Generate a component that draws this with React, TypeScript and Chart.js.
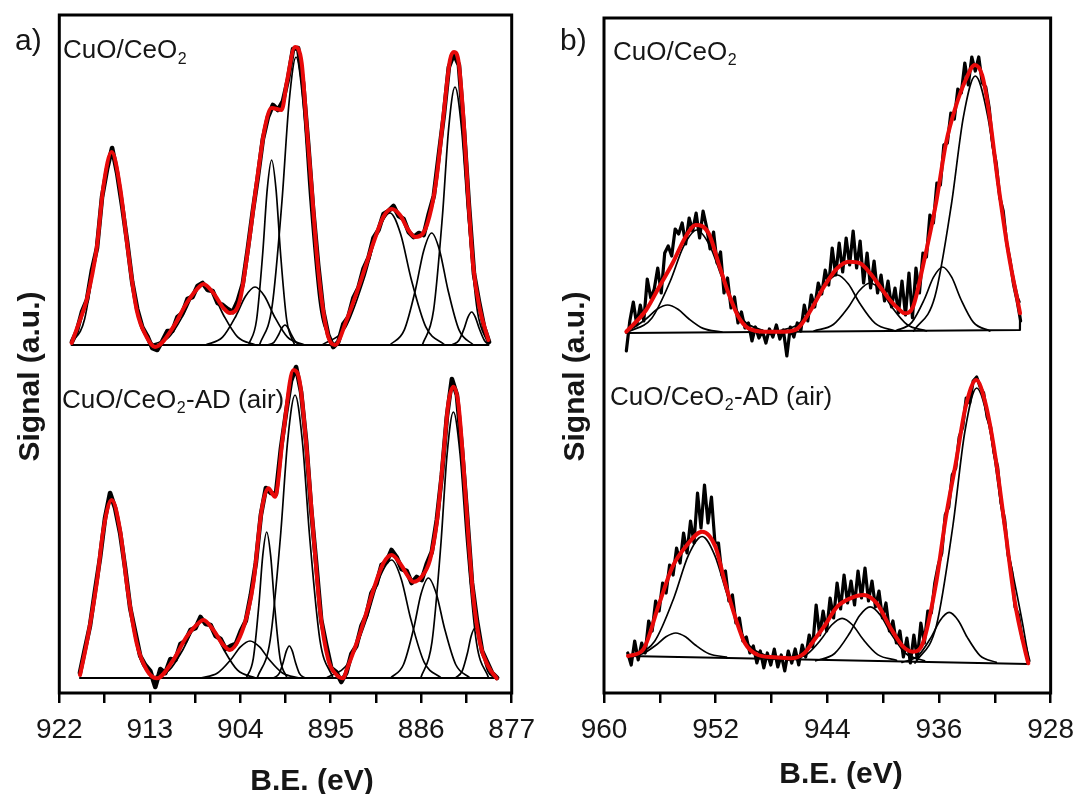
import React, { useEffect, useRef } from "react";
import { Chart, registerables } from "chart.js";

Chart.register(...registerables);

type Pt = [number, number];

const FONT = "'Liberation Sans', Arial, Helvetica, sans-serif";
const RED = "rgb(232, 10, 10)";
const INK = "#161616";

/* ---------------- axes ---------------- */
const A_TICKS = [922, 917.5, 913, 908.5, 904, 899.5, 895, 890.5, 886, 881.5, 877];
const A_TICK_LABELS = [922, 913, 904, 895, 886, 877];
const B_TICKS = [960, 956, 952, 948, 944, 940, 936, 932, 928];
const B_TICK_LABELS = [960, 952, 944, 936, 928];

/* ---------------- sample names ---------------- */
const NAME_TOP: [string, string, string] = ["CuO/CeO", "2", ""];
const NAME_BOTTOM: [string, string, string] = ["CuO/CeO", "2", "-AD (air)"];
const X_TITLE = "B.E. (eV)";
const Y_TITLE = "Signal (a.u.)";

/* ================= panel a) ================= */
const A_TOP_BASELINE: Pt[] = [[920.77, 348], [879.32, 348]];
const A_TOP_FIT: Pt[] = [
  [920.77, 350], [919.94, 373], [919.28, 393], [918.28, 445], [917.62, 506], [916.79, 541], [915.96, 506],
  [915.2, 445], [914.3, 383], [913.31, 356], [912.48, 346], [910.66, 366], [909.33, 390], [908.0, 407],
  [907.67, 409], [906.68, 400], [905.68, 385], [905.02, 380], [904.03, 393], [903.2, 446], [902.37, 510],
  [901.54, 566], [900.88, 585], [899.88, 583], [899.38, 610], [898.55, 646], [897.89, 630], [897.39, 566],
  [896.9, 505], [896.4, 440], [895.9, 393], [895.24, 356], [894.58, 348], [893.42, 373], [892.09, 410],
  [890.76, 450], [889.77, 476], [888.94, 484], [888.11, 478], [887.28, 463], [886.62, 456], [885.79, 460],
  [884.96, 486], [884.46, 516], [883.8, 576], [883.14, 633], [882.74, 641], [882.31, 633], [881.81, 576],
  [881.31, 493], [880.82, 426], [880.15, 383], [879.32, 353],
];
const A_TOP_PEAKS: Pt[][] = [
  [[920.77, 350], [919.48, 374], [918.37, 444.5], [917.58, 510], [916.79, 541], [916.0, 510], [915.21, 444.5], [914.1, 374], [912.68, 348]],
  [[912.87, 348], [911.07, 356.1], [909.67, 378], [908.67, 398.4], [907.67, 408], [906.67, 398.4], [905.67, 378], [904.27, 356.1], [902.47, 348]],
  [[907.47, 348], [905.76, 355.8], [904.43, 377], [903.48, 396.7], [902.53, 406], [901.58, 396.7], [900.63, 377], [899.3, 355.8], [897.59, 348]],
  [[903.17, 348], [902.38, 373], [901.76, 440.5], [901.32, 503.4], [900.88, 533], [900.44, 503.4], [900.0, 440.5], [899.38, 373], [898.59, 348]],
  [[901.24, 348], [900.65, 350.7], [900.2, 358], [899.88, 364.8], [899.55, 368], [899.22, 364.8], [898.9, 358], [898.45, 350.7], [897.86, 348]],
  [[902.09, 348], [900.83, 386.9], [899.85, 492], [899.15, 590], [898.45, 636], [897.75, 590], [897.05, 492], [896.07, 386.9], [894.81, 348]],
  [[895.86, 348], [893.52, 365.8], [891.7, 414], [890.4, 458.9], [889.1, 480], [888.05, 458.9], [887.0, 414], [885.53, 365.8], [883.64, 348]],
  [[889.12, 348], [887.68, 363.1], [886.56, 404], [885.76, 442.1], [884.96, 460], [884.16, 442.1], [883.36, 404], [882.24, 363.1], [880.8, 348]],
  [[885.89, 348], [884.77, 382.8], [883.89, 477], [883.27, 564.7], [882.64, 606], [881.99, 564.7], [881.34, 477], [880.43, 382.8], [879.32, 349]],
  [[882.93, 348], [882.26, 352.5], [881.73, 364.5], [881.36, 375.7], [880.98, 381], [880.61, 375.7], [880.23, 364.5], [879.71, 352.5], [879.32, 348.5]],
];
const A_TOP_DATA_START = 920.75;
const A_DATA_STEP = 0.5;
const A_TOP_DATA = [
  351, 362, 381, 393, 423, 445, 496, 524, 545, 520,
  487, 451, 411, 384, 366, 357, 345, 343, 352, 362,
  362, 376, 380, 394, 396, 407, 410, 403, 402, 390,
  388, 384, 381, 392, 409, 444, 482, 516, 554, 576,
  588, 583, 592, 614, 644, 645, 610, 550, 483, 428,
  382, 358, 346, 351, 369, 376, 395, 405, 424, 435,
  455, 463, 479, 482, 487, 477, 474, 461, 456, 460,
  458, 479, 497, 538, 578, 626, 639, 628, 563, 487,
  419, 391, 366, 351,
];

const A_BOT_BASELINE: Pt[] = [[919.94, 15], [878.49, 15]];
const A_BOT_FIT: Pt[] = [
  [919.94, 18], [919.28, 49.7], [918.28, 109.7], [917.62, 163], [916.79, 193], [915.96, 163], [915.2, 103],
  [914.3, 49.7], [913.31, 23], [912.31, 14.7], [910.66, 33], [909.33, 56.3], [908.0, 71.3], [907.67, 73],
  [906.68, 63], [905.68, 48], [905.02, 43], [904.03, 56.3], [903.2, 83], [902.7, 109.7], [901.87, 183],
  [901.21, 204.7], [900.54, 196.3], [899.72, 259.7], [898.72, 323], [898.06, 309.7], [897.39, 243],
  [896.73, 159.7], [896.07, 83], [895.24, 33], [894.41, 18], [893.75, 14.7], [893.42, 23], [892.09, 59.7],
  [890.76, 103], [889.77, 129.7], [888.94, 138], [888.11, 129.7], [887.28, 116.3], [886.78, 111.3],
  [885.96, 116.3], [885.13, 133], [884.46, 169.7], [883.8, 236.3], [883.3, 289.7], [882.8, 306.3],
  [882.31, 289.7], [881.81, 229.7], [881.31, 156.3], [880.82, 96.3], [880.15, 49.7], [879.32, 26.3], [878.49, 14.7],
];
const A_BOT_PEAKS: Pt[][] = [
  [[919.94, 20], [919.48, 39], [918.37, 104], [917.58, 164.5], [916.79, 193], [916.0, 164.5], [915.21, 104], [914.1, 39], [912.68, 15]],
  [[912.87, 15], [911.07, 22.8], [909.67, 44], [908.67, 63.7], [907.67, 73], [906.67, 63.7], [905.67, 44], [904.27, 22.8], [902.47, 15]],
  [[907.97, 15], [906.26, 20], [904.93, 33.5], [903.98, 46.1], [903.03, 52], [902.08, 46.1], [901.13, 33.5], [899.8, 20], [898.09, 15]],
  [[903.4, 15], [902.7, 34.7], [902.15, 88], [901.76, 137.6], [901.37, 161], [900.98, 137.6], [900.59, 88], [900.04, 34.7], [899.34, 15]],
  [[900.68, 15], [900.14, 19.3], [899.72, 31], [899.42, 41.9], [899.12, 47], [898.82, 41.9], [898.52, 31], [898.1, 19.3], [897.56, 15]],
  [[902.32, 15], [901.02, 53.2], [900.0, 156.5], [899.28, 252.7], [898.55, 298], [897.83, 252.7], [897.1, 156.5], [896.08, 53.2], [894.78, 15]],
  [[895.44, 15], [893.19, 30.9], [891.44, 74], [890.19, 114.1], [888.94, 133], [887.99, 114.1], [887.04, 74], [885.71, 30.9], [884.0, 15]],
  [[889.06, 15], [887.76, 28.5], [886.74, 65], [886.02, 99], [885.29, 115], [884.49, 99], [883.69, 65], [882.57, 28.5], [881.13, 15]],
  [[886.05, 15], [884.93, 50.9], [884.05, 148], [883.43, 238.4], [882.8, 281], [882.13, 238.4], [881.45, 148], [880.51, 50.9], [879.29, 15]],
  [[882.6, 15], [881.93, 21.8], [881.4, 40], [881.03, 57], [880.65, 65], [880.28, 57], [879.9, 40], [879.38, 21.8], [878.7, 15]],
];
const A_BOT_DATA_START = 919.95;
const A_BOT_DATA = [
  20, 44, 67, 102, 135, 175, 200, 185, 160, 125,
  85, 61, 37, 28, 22, 6, 24, 20, 34, 33,
  49, 52, 63, 65, 76, 69, 68, 57, 54, 44,
  47, 49, 62, 72, 98, 130, 178, 205, 200, 199,
  245, 280, 312, 326, 301, 252, 184, 130, 73, 48,
  25, 21, 11, 20, 39, 47, 67, 78, 100, 109,
  128, 131, 143, 136, 124, 122, 110, 116, 113, 129,
  141, 173, 218, 276, 314, 298, 244, 179, 110, 72,
  42, 31, 20, 15,
];

/* ================= panel b) ================= */
const B_TOP_BASELINE: Pt[] = [[958.4, 360], [930.2, 363], [930.19, 380]];
const B_TOP_FIT: Pt[] = [
  [958.4, 361.3], [956.98, 383], [956.04, 406.3], [955.09, 429.7], [954.15, 456.3], [953.44, 468],
  [952.5, 459.7], [951.79, 429.7], [951.08, 399.7], [950.37, 376.3], [949.66, 364.7], [948.48, 361.3],
  [947.07, 361.3], [946.12, 364.7], [945.18, 383], [944.24, 406.3], [943.29, 424.7], [942.47, 431.3],
  [941.64, 429.7], [940.93, 419.7], [940.22, 406.3], [939.52, 393], [938.81, 383], [938.45, 379.7],
  [937.86, 386.3], [937.16, 426.3], [936.21, 490], [935.5, 549.7], [934.8, 586.3], [934.09, 613],
  [933.43, 628], [932.91, 618], [932.44, 583], [931.73, 506.3], [931.02, 439.7], [930.19, 379.7],
];
const B_TOP_PEAKS: Pt[][] = [
  [[958.4, 362.8], [958.0, 364.6], [956.95, 374.5], [956.2, 383.7], [955.45, 388], [954.7, 383.7], [953.95, 374.5], [952.9, 364.6], [951.55, 361]],
  [[958.29, 361], [956.58, 374.8], [955.25, 412], [954.3, 446.7], [953.35, 463], [952.4, 446.7], [951.45, 412], [950.12, 374.8], [948.41, 361]],
  [[947.45, 362], [946.01, 369.6], [944.89, 390], [944.09, 409], [943.29, 418], [942.49, 409], [941.69, 390], [940.57, 369.6], [939.13, 362]],
  [[944.96, 362], [943.57, 368.5], [942.48, 386], [941.71, 402.3], [940.93, 410], [940.15, 402.3], [939.38, 386], [938.29, 368.5], [936.9, 362]],
  [[939.12, 362], [937.95, 370.6], [937.04, 394], [936.39, 415.8], [935.74, 426], [935.09, 415.8], [934.44, 394], [933.53, 370.6], [932.36, 362]],
  [[937.82, 362], [936.29, 396.4], [935.1, 489.5], [934.25, 576.2], [933.4, 617], [932.5, 576.2], [931.6, 489.5], [930.34, 396.4], [930.2, 391]],
];
const B_TOP_DATA_START = 958.4;
const B_DATA_STEP = 0.25;
const B_TOP_DATA = [
  342, 372, 391, 368, 388, 372, 414, 395, 404, 425,
  400, 440, 447, 437, 464, 459, 470, 449, 475, 462,
  480, 455, 482, 466, 444, 461, 430, 441, 400, 415,
  385, 396, 370, 381, 365, 370, 352, 366, 355, 362,
  350, 364, 356, 368, 354, 363, 337, 366, 356, 370,
  362, 388, 372, 398, 386, 410, 399, 423, 408, 445,
  418, 450, 421, 455, 428, 462, 425, 452, 410, 440,
  405, 432, 400, 418, 392, 412, 386, 405, 380, 412,
  378, 420, 375, 425, 400, 440, 436, 478, 470, 510,
  508, 548, 550, 580, 574, 604, 600, 630, 608, 636,
  622, 636, 610, 606, 585, 548, 530, 496, 482, 450,
  432, 408, 392, 372,
];

const B_BOT_BASELINE: Pt[] = [[958.28, 37], [929.6, 29]];
const B_BOT_FIT: Pt[] = [
  [958.28, 37], [957.22, 43], [956.04, 89.7], [955.09, 126.3], [954.15, 146.3], [952.97, 161.3],
  [952.02, 146.3], [951.32, 109.7], [950.61, 76.3], [949.9, 49.7], [948.96, 38], [947.78, 35.7],
  [946.6, 34.7], [945.65, 39.7], [944.94, 53], [944.24, 66.3], [943.29, 86.3], [942.35, 94.7],
  [941.4, 98], [940.46, 89.7], [939.52, 66.3], [938.57, 46.3], [937.86, 41.3], [937.16, 49.7],
  [936.21, 109.7], [935.5, 176.3], [934.8, 229.7], [934.09, 286.3], [933.33, 313], [932.67, 289.7],
  [931.96, 236.3], [931.25, 163], [930.55, 89.7], [929.84, 43], [929.6, 29.7],
];
const B_BOT_PEAKS: Pt[][] = [
  [[958.28, 36.4], [957.24, 39.2], [956.26, 48], [955.56, 56.2], [954.86, 60], [954.16, 56.2], [953.46, 48], [952.48, 39.2], [951.22, 36]],
  [[958.17, 35.5], [956.37, 51.8], [954.97, 96], [953.97, 137.1], [952.97, 156.5], [952.05, 137.1], [951.12, 96], [949.82, 51.8], [948.16, 35.5]],
  [[946.84, 32.7], [945.49, 38.4], [944.44, 53.7], [943.69, 68], [942.94, 74.7], [942.19, 68], [941.44, 53.7], [940.39, 38.4], [939.04, 32.7]],
  [[944.83, 32.2], [943.48, 39.5], [942.43, 59.2], [941.68, 77.6], [940.93, 86.2], [940.18, 77.6], [939.43, 59.2], [938.38, 39.5], [937.03, 32.2]],
  [[938.65, 30.6], [937.48, 37.4], [936.57, 55.6], [935.92, 72.6], [935.27, 80.6], [934.62, 72.6], [933.97, 55.6], [933.06, 37.4], [931.89, 30.6]],
  [[937.72, 30], [936.19, 67.1], [935.0, 167.5], [934.15, 261], [933.3, 305], [932.33, 261], [931.35, 167.5], [929.98, 67.1], [929.6, 36]],
];
const B_BOT_DATA_START = 958.3;
const B_BOT_DATA = [
  40, 28, 52, 33, 50, 40, 72, 62, 92, 82,
  110, 100, 128, 118, 145, 130, 160, 140, 172, 150,
  200, 165, 208, 170, 196, 150, 150, 118, 122, 92,
  98, 70, 75, 52, 56, 40, 47, 30, 42, 25,
  40, 28, 44, 26, 38, 22, 42, 30, 44, 28,
  48, 36, 58, 46, 88, 58, 82, 62, 95, 75,
  110, 84, 118, 90, 112, 88, 122, 95, 125, 92,
  112, 86, 102, 75, 90, 62, 72, 50, 62, 36,
  55, 30, 58, 34, 70, 50, 82, 80, 110, 128,
  140, 178, 186, 218, 225, 256, 266, 295, 290, 312,
  316, 306, 300, 276, 266, 240, 226, 190, 174, 138,
  122, 86, 78, 55, 46, 32,
];

/* ---------------- helpers ---------------- */
const toXY = (arr: Pt[]) => arr.map(([x, y]) => ({ x, y }));
const gridXY = (start: number, step: number, ys: number[]) =>
  ys.map((y, i) => ({ x: Math.round((start - i * step) * 100) / 100, y }));

interface Spectrum {
  baseline: Pt[];
  fit: Pt[];
  peaks: Pt[][];
  dataStart: number;
  dataStep: number;
  data: number[];
}

function spectrumDatasets(s: Spectrum, dataWidth: number) {
  const out: any[] = [];
  out.push({ data: toXY(s.fit), borderColor: RED, borderWidth: 4, cubicInterpolationMode: "monotone", order: 0 });
  out.push({ data: gridXY(s.dataStart, s.dataStep, s.data), borderColor: "#000", borderWidth: dataWidth, tension: 0, order: 1 });
  s.peaks.forEach((p) =>
    out.push({ data: toXY(p), borderColor: "#000", borderWidth: 1.7, cubicInterpolationMode: "monotone", order: 2 })
  );
  out.push({ data: toXY(s.baseline), borderColor: "#000", borderWidth: 2.2, tension: 0, order: 3 });
  return out;
}

interface PanelCfg {
  canvasLeft: number;
  width: number;
  padding: { left: number; right: number; top: number; bottom: number };
  axisHeight: number;
  xMin: number;
  xMax: number;
  yMax: number;
  ticks: number[];
  tickLabels: number[];
  dataWidth: number;
  letter: [string, number, number];
  nameTop: [number, number];
  nameBottom: [number, number];
  xTitle: [number, number];
  yTitle: [number, number];
  spectra: Spectrum[];
}

const PANEL_A: PanelCfg = {
  canvasLeft: 0,
  width: 558,
  padding: { left: 59.3, right: 46.3, top: 15, bottom: 0 },
  axisHeight: 101,
  xMin: 877,
  xMax: 922,
  yMax: 678,
  ticks: A_TICKS,
  tickLabels: A_TICK_LABELS,
  dataWidth: 4.6,
  letter: ["a)", 15, 50],
  nameTop: [63, 58.3],
  nameBottom: [62, 408],
  xTitle: [312, 790],
  yTitle: [38.5, 376.5],
  spectra: [
    { baseline: A_TOP_BASELINE, fit: A_TOP_FIT, peaks: A_TOP_PEAKS, dataStart: A_TOP_DATA_START, dataStep: A_DATA_STEP, data: A_TOP_DATA },
    { baseline: A_BOT_BASELINE, fit: A_BOT_FIT, peaks: A_BOT_PEAKS, dataStart: A_BOT_DATA_START, dataStep: A_DATA_STEP, data: A_BOT_DATA },
  ],
};

const PANEL_B: PanelCfg = {
  canvasLeft: 558,
  width: 526,
  padding: { left: 46, right: 28, top: 18, bottom: 0 },
  axisHeight: 101,
  xMin: 928,
  xMax: 960,
  yMax: 675,
  ticks: B_TICKS,
  tickLabels: B_TICK_LABELS,
  dataWidth: 3.2,
  letter: ["b)", 2, 50],
  nameTop: [55, 60],
  nameBottom: [52, 405],
  xTitle: [283, 783],
  yTitle: [26, 376.5],
  spectra: [
    { baseline: B_TOP_BASELINE, fit: B_TOP_FIT, peaks: B_TOP_PEAKS, dataStart: B_TOP_DATA_START, dataStep: B_DATA_STEP, data: B_TOP_DATA },
    { baseline: B_BOT_BASELINE, fit: B_BOT_FIT, peaks: B_BOT_PEAKS, dataStart: B_BOT_DATA_START, dataStep: B_DATA_STEP, data: B_BOT_DATA },
  ],
};

function drawName(ctx: CanvasRenderingContext2D, parts: [string, string, string], x: number, y: number) {
  ctx.textAlign = "left";
  ctx.font = `26px ${FONT}`;
  ctx.fillText(parts[0], x, y);
  let cx = x + ctx.measureText(parts[0]).width;
  ctx.font = `16px ${FONT}`;
  ctx.fillText(parts[1], cx + 0.5, y + 5.2);
  cx += ctx.measureText(parts[1]).width + 1;
  if (parts[2]) {
    ctx.font = `26px ${FONT}`;
    ctx.fillText(parts[2], cx, y);
  }
}

function makeAnnotator(cfg: PanelCfg) {
  return {
    id: "panelAnnotations",
    afterDraw(chart: any) {
      const { ctx, chartArea: a } = chart;
      ctx.save();
      ctx.strokeStyle = "#000";
      ctx.lineWidth = 3;
      ctx.lineJoin = "miter";
      ctx.strokeRect(a.left, a.top, a.right - a.left, a.bottom - a.top);

      ctx.fillStyle = INK;
      ctx.textBaseline = "alphabetic";
      ctx.textAlign = "left";
      ctx.font = `30px ${FONT}`;
      ctx.fillText(cfg.letter[0], cfg.letter[1], cfg.letter[2]);

      drawName(ctx, NAME_TOP, cfg.nameTop[0], cfg.nameTop[1]);
      drawName(ctx, NAME_BOTTOM, cfg.nameBottom[0], cfg.nameBottom[1]);

      ctx.font = `bold 30px ${FONT}`;
      ctx.textAlign = "center";
      ctx.fillText(X_TITLE, cfg.xTitle[0], cfg.xTitle[1]);

      ctx.translate(cfg.yTitle[0], cfg.yTitle[1]);
      ctx.rotate(-Math.PI / 2);
      ctx.fillText(Y_TITLE, 0, 0);
      ctx.restore();
    },
  };
}

function Panel({ cfg }: { cfg: PanelCfg }) {
  const ref = useRef<HTMLCanvasElement>(null);
  useEffect(() => {
    if (!ref.current) return;
    const datasets = cfg.spectra.flatMap((s) => spectrumDatasets(s, cfg.dataWidth));
    const chart = new Chart(ref.current, {
      type: "line",
      data: { datasets },
      options: {
        animation: false,
        responsive: false,
        devicePixelRatio: 1,
        events: [],
        layout: { padding: cfg.padding },
        elements: {
          point: { radius: 0, hoverRadius: 0 },
          line: { borderCapStyle: "round", borderJoinStyle: "round", fill: false },
        },
        plugins: { legend: { display: false }, tooltip: { enabled: false } },
        scales: {
          x: {
            type: "linear",
            reverse: true,
            min: cfg.xMin,
            max: cfg.xMax,
            afterBuildTicks: (scale: any) => {
              scale.ticks = cfg.ticks.map((v) => ({ value: v }));
            },
            afterFit: (scale: any) => {
              scale.height = cfg.axisHeight;
            },
            grid: {
              display: true,
              drawOnChartArea: false,
              drawTicks: true,
              tickLength: 10,
              color: "#000",
              lineWidth: 2.5,
            },
            border: { display: false },
            ticks: {
              autoSkip: false,
              maxRotation: 0,
              minRotation: 0,
              padding: 10,
              color: INK,
              font: { family: FONT, size: 28 },
              callback: (v: any) => (cfg.tickLabels.includes(Number(v)) ? String(v) : ""),
            },
          },
          y: { type: "linear", display: false, min: 0, max: cfg.yMax },
        },
      } as any,
      plugins: [makeAnnotator(cfg)],
    });
    return () => chart.destroy();
  }, [cfg]);
  return (
    <canvas
      ref={ref}
      width={cfg.width}
      height={794}
      style={{ position: "absolute", left: cfg.canvasLeft, top: 0, width: cfg.width, height: 794 }}
    />
  );
}

export default function App() {
  return (
    <div style={{ position: "absolute", left: 0, top: 0, width: 1084, height: 794, background: "#fff", overflow: "hidden" }}>
      <Panel cfg={PANEL_A} />
      <Panel cfg={PANEL_B} />
    </div>
  );
}
